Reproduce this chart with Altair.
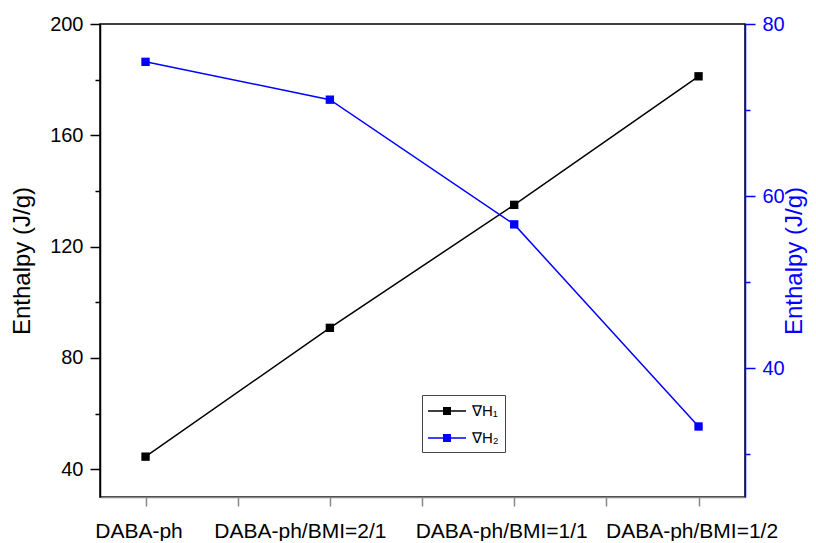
import altair as alt
import pandas as pd

categories = ["DABA-ph", "DABA-ph/BMI=2/1", "DABA-ph/BMI=1/1", "DABA-ph/BMI=1/2"]
h1 = [44.5, 90.8, 135.0, 181.2]
h2 = [75.6, 71.2, 56.7, 33.2]
series_names = ["\u2207H\u2081", "\u2207H\u2082"]
series_colors = ["#000000", "#0000ff"]

left_ticks = [40, 60, 80, 100, 120, 140, 160, 180, 200]
right_ticks = [30, 40, 50, 60, 70, 80]
x_ticks = [0, 0.5, 1, 1.5, 2, 2.5, 3]

df = pd.DataFrame({
    "idx": list(range(len(categories))) * 2,
    "cat": categories * 2,
    "value": h1 + h2,
    "series": [series_names[0]] * len(h1) + [series_names[1]] * len(h2),
})

FONT = "Liberation Sans"
cat_array = "[" + ",".join("'" + c + "'" for c in categories) + "]"

x_enc = alt.X(
    "idx:Q",
    scale=alt.Scale(domain=[-0.247, 3.252], nice=False, zero=False),
    axis=alt.Axis(
        values=x_ticks,
        labelExpr="datum.value % 1 == 0 ? " + cat_array + "[datum.value] : ''",
        title=None, grid=False, tickSize=9, labelFontSize=21,
        labelPadding=14, labelFlush=False, labelOverlap=False, labelBound=False,
        labelOffset={"condition": [
            {"test": "datum.value == 1", "value": -30},
            {"test": "datum.value == 2", "value": -13},
        ], "value": -7},
    ),
)

color_scale = alt.Scale(domain=series_names, range=series_colors)
legend = alt.Legend(
    orient="none", legendX=322, legendY=371, title=None,
    symbolType="M -1 -0.075 H 2.8 V 0.075 H -1 Z M 0.5 -0.4 H 1.3 V 0.4 H 0.5 Z",
    symbolSize=400, symbolStrokeWidth=0, symbolOpacity=1,
    labelFontSize=15, labelFont=FONT, labelOffset=24, padding=6,
    strokeColor="#444444", fillColor="white", rowPadding=9,
)

base = alt.Chart(df)

y_left = alt.Y(
    "value:Q",
    scale=alt.Scale(domain=[30, 200], nice=False, zero=False),
    axis=alt.Axis(
        orient="left", values=left_ticks, grid=False,
        labelExpr="datum.value % 40 == 0 ? datum.label : ''",
        tickSize={"condition": {"test": "datum.value % 40 != 0", "value": 5}, "value": 10},
        labelFontSize=20, labelPadding=7,
        title="Enthalpy (J/g)", titleFontSize=24, titleFontWeight="normal", titlePadding=15,
        labelColor="black", tickColor="black", domainColor="black", titleColor="black",
    ),
)

y_right = alt.Y(
    "value:Q",
    scale=alt.Scale(domain=[25, 80], nice=False, zero=False),
    axis=alt.Axis(
        orient="right", values=right_ticks, grid=False,
        labelExpr="datum.value % 20 == 0 ? datum.label : ''",
        tickSize={"condition": {"test": "datum.value % 20 != 0", "value": 5}, "value": 10},
        labelFontSize=20, labelPadding=7,
        title="Enthalpy (J/g)", titleFontSize=24, titleFontWeight="normal", titlePadding=22,
        titleAngle=270,
        labelColor="#0000ff", tickColor="#0000ff", domainColor="#0000ff", titleColor="#0000ff",
    ),
)

def series_layer(name, y_enc):
    b = base.transform_filter(alt.datum.series == name)
    line = b.mark_line(strokeWidth=1.5).encode(
        x=x_enc, y=y_enc,
        color=alt.Color("series:N", scale=color_scale, legend=legend),
    )
    pts = b.mark_point(shape="square", filled=True, size=70, opacity=1).encode(
        x=x_enc, y=y_enc,
        color=alt.Color("series:N", scale=color_scale, legend=legend),
    )
    return alt.layer(line, pts)

left = series_layer(series_names[0], y_left)
right = series_layer(series_names[1], y_right)

chart = alt.layer(left, right).resolve_scale(y="independent").properties(
    width=645, height=473,
    autosize=alt.AutoSizeParams(type="none"),
    padding={"left": 92, "top": 16, "right": 63, "bottom": 44},
    background="white",
).configure_view(
    stroke="black", strokeWidth=1.5,
).configure_axis(
    labelFont=FONT, titleFont=FONT, domainWidth=1.5, tickWidth=1.5,
)

chart.save("out.html", embed_options={"renderer": "svg", "actions": False})
